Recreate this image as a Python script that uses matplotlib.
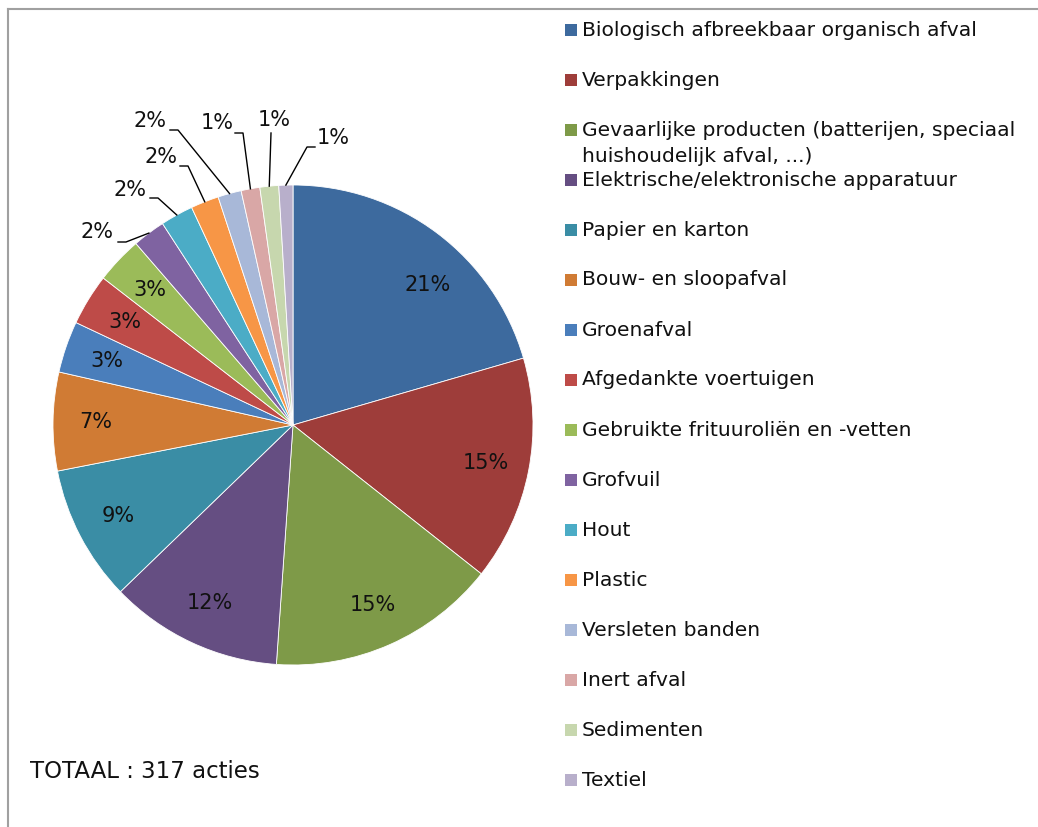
import matplotlib.pyplot as plt
from matplotlib.patches import Rectangle
from matplotlib.lines import Line2D
import numpy as np

categories = [
    'Biologisch afbreekbaar organisch afval',
    'Verpakkingen',
    'Gevaarlijke producten (batterijen, speciaal\nhuishoudelijk afval, ...)',
    'Elektrische/elektronische apparatuur',
    'Papier en karton',
    'Bouw- en sloopafval',
    'Groenafval',
    'Afgedankte voertuigen',
    'Gebruikte frituuroliën en -vetten',
    'Grofvuil',
    'Hout',
    'Plastic',
    'Versleten banden',
    'Inert afval',
    'Sedimenten',
    'Textiel',
]
actions = [65, 48, 49, 37, 29, 21, 11, 11, 10, 7, 7, 6, 5, 4, 4, 3]
colors = ['#3D6A9E', '#9E3D3A', '#7E9A48', '#654E82', '#3A8DA5', '#D07B34',
          '#4A7EBB', '#BE4B48', '#9BBB59', '#7F63A1', '#4BACC6', '#F79646',
          '#A8B8D8', '#D9A7A6', '#C7D7AE', '#B8AFCB']
total_label = 'TOTAAL : 317 acties'

# layout (pixels of the 1038x827 picture)
W, H = 1038, 827
CX, CY, R = 293, 425, 240
small_pos = [(97, 232), (130, 190), (161, 157), (150, 121), (217, 123), (274, 120), (333, 138)]
leader_from = [(118, 242), (150, 198), (180, 166), (170, 130), (235, 133), (271, 133), (315, 147)]
elbow = [8, 8, 8, 8, 8, 0, -8]


def fx(px):
    return px / W


def fy(py):
    return 1 - py / H


def dx(px):
    return (px - CX) / R


def dy(py):
    return (CY - py) / R


def main():
    plt.rcParams['font.family'] = ['DejaVu Sans']
    fig = plt.figure(figsize=(W / 100, H / 100), dpi=100)
    ax = fig.add_axes([0, 0, 1, 1])

    wedges, texts, autotexts = ax.pie(
        actions, colors=colors, startangle=90, counterclock=False, radius=1,
        autopct='%.0f%%', pctdistance=0.82,
        wedgeprops=dict(edgecolor='white', linewidth=0.6),
        textprops=dict(fontsize=15, color='#111111'))
    ax.set_xlim(-CX / R, (W - CX) / R)
    ax.set_ylim(-(H - CY) / R, CY / R)

    # Excel put the first label a bit lower than the slice middle
    autotexts[0].set_position((dx(428), dy(285)))

    # small slices: labels outside with leader lines
    for k, i in enumerate(range(9, len(actions))):
        w = wedges[i]
        mid = np.deg2rad((w.theta1 + w.theta2) / 2)
        tx, ty = small_pos[k]
        autotexts[i].set_position((dx(tx), dy(ty)))
        sx, sy = leader_from[k]
        xs = [dx(sx), dx(sx + elbow[k]), np.cos(mid)]
        ys = [dy(sy), dy(sy), np.sin(mid)]
        ax.plot(xs, ys, color='black', lw=1)

    # legend drawn by hand so the wrapped label overflows like the original
    for i, (name, col) in enumerate(zip(categories, colors)):
        y = 30 + i * 50
        fig.add_artist(Rectangle((fx(565), fy(y + 6)), 12 / W, 12 / H,
                                 transform=fig.transFigure, color=col, lw=0))
        for j, line in enumerate(name.split('\n')):
            fig.text(fx(582), fy(y + j * 26), line, ha='left', va='center',
                     fontsize=14.6, color='#111111')

    fig.text(fx(30), fy(772), total_label, ha='left', va='center',
             fontsize=16.5, color='#111111')

    # frame lines
    fig.add_artist(Line2D([fx(8), 1], [fy(9), fy(9)], color='#a0a0a0', lw=1.5))
    fig.add_artist(Line2D([fx(8), fx(8)], [fy(9), 0], color='#a0a0a0', lw=1.5))

    fig.savefig('out.png', dpi=100)


if __name__ == "__main__":
    main()
